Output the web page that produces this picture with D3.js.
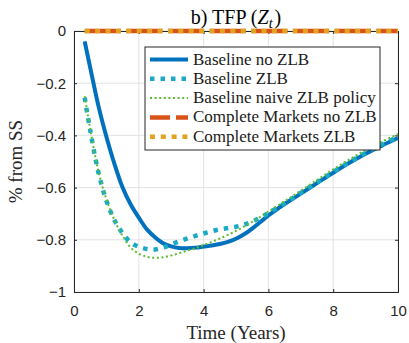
<!DOCTYPE html>
<html>
<head>
<meta charset="utf-8">
<script src="https://cdn.jsdelivr.net/npm/d3@7"></script>
<style>
  body { margin: 0; background: #fff; }
  svg { display: block; }
  .serif { font-family: "Liberation Serif", "DejaVu Serif", "Times New Roman", serif; }
  .sans { font-family: "Liberation Sans", Arial, Helvetica, sans-serif; }
</style>
</head>
<body>
<div id="chart"></div>
<script>
// time in years (quarterly grid)
const time = [0.33, 0.5, 0.75, 1, 1.25, 1.5, 1.75, 2, 2.25, 2.5, 2.75, 3, 3.25, 3.5, 3.75, 4,
  4.25, 4.5, 4.75, 5, 5.25, 5.5, 5.75, 6, 6.25, 6.5, 6.75, 7, 7.5, 8, 8.5, 9, 9.5, 10];

const baselineNoZlb = [-0.04, -0.14, -0.285, -0.405, -0.51, -0.6, -0.665, -0.715, -0.76, -0.79, -0.813, -0.825, -0.831, -0.832, -0.83, -0.826,
  -0.822, -0.816, -0.808, -0.796, -0.779, -0.757, -0.732, -0.707, -0.684, -0.663, -0.643, -0.623, -0.583, -0.543, -0.505, -0.47, -0.439, -0.41];

const baselineZlb = [-0.255, -0.38, -0.54, -0.65, -0.725, -0.775, -0.81, -0.827, -0.835, -0.837, -0.83, -0.818, -0.806, -0.795, -0.785, -0.776,
  -0.767, -0.76, -0.755, -0.75, -0.742, -0.73, -0.715, -0.698, -0.679, -0.66, -0.64, -0.62, -0.58, -0.54, -0.502, -0.467, -0.435, -0.405];

const naiveZlb = [-0.25, -0.375, -0.535, -0.645, -0.725, -0.785, -0.83, -0.853, -0.865, -0.869, -0.867, -0.86, -0.851, -0.841, -0.832, -0.82,
  -0.808, -0.795, -0.781, -0.766, -0.749, -0.731, -0.712, -0.692, -0.672, -0.652, -0.632, -0.612, -0.571, -0.53, -0.492, -0.456, -0.424, -0.395];

const completeNoZlb = time.map(() => 0);
const completeZlb = time.map(() => 0);

const xTicks = [0, 2, 4, 6, 8, 10];
const yTicks = [0, -0.2, -0.4, -0.6, -0.8, -1];

const series = [
  { name: 'Baseline no ZLB', values: baselineNoZlb, color: '#0072BD', width: 4, dash: null, legendDash: null },
  { name: 'Baseline ZLB', values: baselineZlb, color: '#1AAAC6', width: 4.5, dash: '4.5,6', legendDash: '4.5,6' },
  { name: 'Baseline naive ZLB policy', values: naiveZlb, color: '#5BBD2E', width: 2, dash: '2,2.6', legendDash: '2,2.6' },
  { name: 'Complete Markets no ZLB', values: completeNoZlb, color: '#D95319', width: 4.5, dash: '36,5.7', legendDash: '20,6' },
  { name: 'Complete Markets ZLB', values: completeZlb, color: '#E0A420', width: 4.5, dash: '5,5.4', legendDash: '5,5.8' },
];

const W = 409, H = 343;
const margin = { top: 31, right: 11, bottom: 51, left: 74 };

const svg = d3.select('#chart').append('svg')
  .attr('width', W)
  .attr('height', H);

const x = d3.scaleLinear().domain([0, 10]).range([margin.left, W - margin.right]);
const y = d3.scaleLinear().domain([-1, 0]).range([H - margin.bottom, margin.top]);

// grid
svg.append('g')
  .selectAll('line')
  .data(xTicks)
  .join('line')
  .attr('x1', d => x(d)).attr('x2', d => x(d))
  .attr('y1', y(-1)).attr('y2', y(0))
  .attr('stroke', '#e3e3e3').attr('stroke-width', 1);

svg.append('g')
  .selectAll('line')
  .data(yTicks)
  .join('line')
  .attr('x1', x(0)).attr('x2', x(10))
  .attr('y1', d => y(d)).attr('y2', d => y(d))
  .attr('stroke', '#e3e3e3').attr('stroke-width', 1);

// axes
const fmt = d => d === 0 ? '0' : d3.format('')(d);
svg.append('g')
  .attr('transform', `translate(0,${y(-1)})`)
  .call(d3.axisBottom(x).tickValues(xTicks).tickSize(-3).tickPadding(13).tickFormat(fmt));
svg.append('g')
  .attr('transform', `translate(${x(0)},0)`)
  .call(d3.axisLeft(y).tickValues(yTicks).tickSize(-3).tickPadding(8).tickFormat(fmt));
svg.append('g')
  .attr('transform', `translate(${x(10)},0)`)
  .call(d3.axisRight(y).tickValues(yTicks).tickSize(-3).tickFormat(''));
svg.append('g')
  .attr('transform', `translate(0,${y(0)})`)
  .call(d3.axisTop(x).tickValues(xTicks).tickSize(-3).tickFormat(''));

svg.selectAll('.domain').attr('stroke', '#262626').attr('stroke-width', 1);
svg.selectAll('.tick line').attr('stroke', '#262626');
svg.selectAll('.tick text')
  .attr('fill', '#262626')
  .attr('font-family', null)
  .attr('font-size', null)
  .attr('class', 'sans')
  .style('font-size', '15px');

// lines
const line = d3.line()
  .x((d, i) => x(time[i]))
  .y(d => y(d))
  .curve(d3.curveCatmullRom);

series.forEach(s => {
  svg.append('path')
    .datum(s.values)
    .attr('fill', 'none')
    .attr('stroke', s.color)
    .attr('stroke-width', s.width)
    .attr('stroke-dasharray', s.dash)
    .attr('d', line);
});

// title
const title = svg.append('text')
  .attr('class', 'serif')
  .attr('x', x(5)).attr('y', 24)
  .attr('text-anchor', 'middle')
  .style('font-size', '20px')
  .attr('fill', '#000');
title.append('tspan').text('b) TFP (');
title.append('tspan').style('font-style', 'italic').text('Z');
title.append('tspan').style('font-style', 'italic').style('font-size', '14px').attr('dy', 4).text('t');
title.append('tspan').attr('dy', -4).attr('dx', 2).text(')');

// axis labels
svg.append('text')
  .attr('class', 'serif')
  .attr('x', x(5)).attr('y', 339)
  .attr('text-anchor', 'middle')
  .style('font-size', '19px')
  .attr('fill', '#262626')
  .text('Time (Years)');

svg.append('text')
  .attr('class', 'serif')
  .attr('transform', `translate(22,${y(-0.5)}) rotate(-90)`)
  .attr('text-anchor', 'middle')
  .style('font-size', '19px')
  .attr('fill', '#262626')
  .text('% from SS');

// legend
const lg = svg.append('g').attr('transform', 'translate(145,47)');
lg.append('rect')
  .attr('width', 235).attr('height', 103)
  .attr('fill', '#fff')
  .attr('stroke', '#262626').attr('stroke-width', 1);

const rows = lg.selectAll('g.row')
  .data(series)
  .join('g')
  .attr('class', 'row')
  .attr('transform', (d, i) => `translate(0,${12.5 + i * 19.3})`);

rows.append('line')
  .attr('x1', 5).attr('x2', 43)
  .attr('stroke', d => d.color)
  .attr('stroke-width', d => d.width)
  .attr('stroke-dasharray', d => d.legendDash);

rows.append('text')
  .attr('class', 'serif')
  .attr('x', 48).attr('y', 5)
  .style('font-size', '17px')
  .attr('fill', '#1a1a1a')
  .text(d => d.name);
</script>
</body>
</html>
